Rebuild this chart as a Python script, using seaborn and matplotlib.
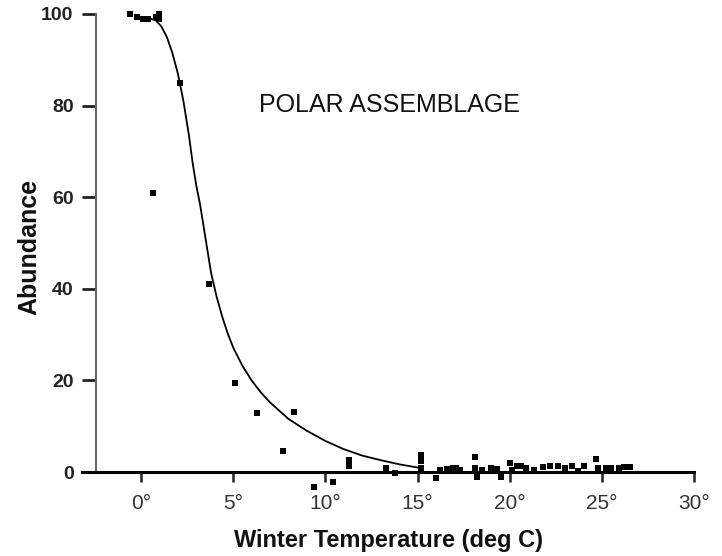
import matplotlib
matplotlib.use("Agg")
import matplotlib.pyplot as plt
import seaborn as sns
import pandas as pd

# Observed samples (winter temperature, abundance %)
temp = [-0.6, -0.2, 0.1, 0.4, 0.8, 0.95, 1.0, 0.65, 2.1, 3.7,
        5.1, 6.3, 8.3, 7.7, 9.4, 10.4, 11.3, 11.3, 13.3, 13.8,
        15.2, 15.2, 15.2, 16.0, 16.2, 16.6, 16.9, 17.1, 17.3, 18.1,
        18.1, 18.2, 18.5, 19.0, 19.3, 19.5, 20.0, 20.1, 20.4, 20.6,
        20.9, 21.3, 21.8, 22.2, 22.6, 23.0, 23.4, 23.7, 24.0, 24.7,
        24.8, 25.2, 25.5, 25.9, 26.2, 26.5]
abund = [100.0, 99.3, 98.9, 98.9, 99.3, 100.0, 98.9, 61.0, 85.0, 41.0,
         19.5, 12.9, 13.1, 4.5, -3.3, -2.2, 2.6, 1.3, 0.9, -0.2,
         3.7, 2.4, 1.0, -1.2, 0.4, 0.6, 0.9, 1.0, 0.4, 3.3,
         1.0, -1.0, 0.5, 1.0, 0.6, -1.0, 2.0, 0.5, 1.3, 1.3,
         0.9, 0.4, 1.1, 1.3, 1.3, 0.9, 1.3, 0.2, 1.3, 2.8,
         1.0, 0.9, 0.9, 0.9, 1.1, 1.1]

# Fitted response curve
curve_x = [0.5, 0.8, 1.1, 1.4, 1.7, 2.0, 2.3, 2.6, 2.8, 3.0, 3.2, 3.5, 3.8,
           4.1, 4.4, 4.7, 5.0, 5.5, 6.0, 6.5, 7.0, 8.0, 9.0, 10.0, 11.0,
           12.0, 13.0, 14.0, 15.0]
curve_y = [99.0, 98.6, 97.3, 95.0, 91.5, 87.0, 81.0, 73.5, 67.5, 62.5, 58.5,
           51.0, 43.5, 38.3, 34.0, 30.3, 27.2, 23.2, 20.0, 17.4, 15.2, 11.6,
           9.0, 6.8, 5.0, 3.6, 2.6, 1.7, 1.0]

x_ticks = [0, 5, 10, 15, 20, 25, 30]
x_tick_labels = ["0°", "5°", "10°", "15°", "20°", "25°", "30°"]
y_ticks = [0, 20, 40, 60, 80, 100]
y_tick_labels = ["0", "20", "40", "60", "80", "100"]

sns.set_theme(style="white")
plt.rcParams["font.family"] = ["Liberation Sans", "DejaVu Sans"]

fig = plt.figure(figsize=(7.22, 5.56), dpi=100)
ax = fig.add_axes([82 / 722, 1 - 495 / 556, (696 - 82) / 722, (495 - 14) / 556])

pts = pd.DataFrame({"temp": temp, "abund": abund})
crv = pd.DataFrame({"x": curve_x, "y": curve_y})

sns.lineplot(data=crv, x="x", y="y", ax=ax, color="black", linewidth=1.3,
             estimator=None, sort=False)
sns.scatterplot(data=pts, x="temp", y="abund", ax=ax, color="black", marker="s",
                s=14, linewidth=0, clip_on=False, zorder=3)

ax.set_xlim(-3.2, 30.1)
ax.set_ylim(-5, 100)

for s in ["top", "right"]:
    ax.spines[s].set_visible(False)
ax.spines["left"].set_position(("data", -2.45))
ax.spines["left"].set_bounds(0, 100)
ax.spines["left"].set_color("#666666")
ax.spines["left"].set_linewidth(1.5)
ax.spines["bottom"].set_position(("data", 0))
ax.spines["bottom"].set_bounds(-3.2, 30)
ax.spines["bottom"].set_color("black")
ax.spines["bottom"].set_linewidth(2.2)

ax.set_xticks(x_ticks)
ax.set_xticklabels(x_tick_labels)
ax.set_yticks(y_ticks)
ax.set_yticklabels(y_tick_labels)
ax.tick_params(axis="y", direction="out", length=10, width=2, color="#222222",
               pad=6, labelsize=14, left=True)
ax.tick_params(axis="x", direction="out", length=7, width=1.8, color="#222222",
               pad=9, labelsize=15, bottom=True)
for lab in ax.get_yticklabels():
    lab.set_fontweight("bold")
    lab.set_color("#222222")
for lab in ax.get_xticklabels():
    lab.set_color("#333333")

ax.set_xlabel("")
ax.set_ylabel("")
fig.text(389 / 722, 1 - 540 / 556, "Winter Temperature (deg C)", ha="center",
         va="center", fontsize=17, fontweight="bold", color="#111111")
fig.text(29 / 722, 1 - 247 / 556, "Abundance", ha="center", va="center",
         rotation=90, fontsize=18, fontweight="bold", color="#111111")

ax.text(13.45, 80.1, "POLAR ASSEMBLAGE", ha="center", va="center", fontsize=18,
        color="#111111")

fig.savefig("out.png", dpi=100)
